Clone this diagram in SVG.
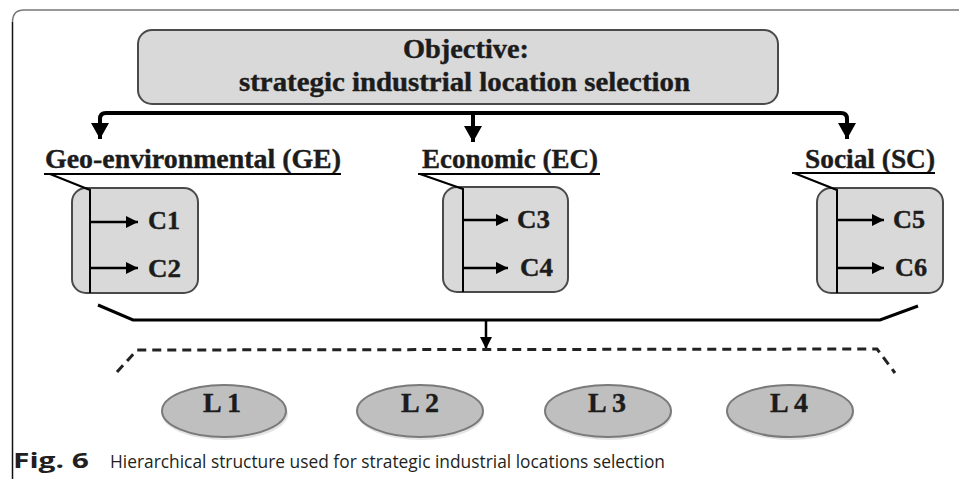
<svg xmlns="http://www.w3.org/2000/svg" width="959" height="479" viewBox="0 0 959 479">
  <style>
    .frame-top { fill: none; stroke: #777; stroke-width: 1.5; }
    .frame-left { fill: none; stroke: #111; stroke-width: 1.5; }
    .box { fill: #d9d9d9; stroke: #4a4a4a; stroke-width: 2; }
    .loc { fill: #bfbfbf; stroke: #7a7a7a; stroke-width: 2; }
    .shadow { fill: #e4e4e4; }
    .serif { font-family: "Liberation Serif", "Times New Roman", serif; font-weight: bold; fill: #1c1c1c; stroke: #1c1c1c; stroke-width: 0.4; }
    .title { font-size: 27px; }
    .crit { font-size: 27px; }
    .sub { font-size: 25px; }
    .lbl { font-size: 28px; }
    .cap { font-family: "Open Sans", "Noto Sans", sans-serif; font-size: 18px; fill: #231f20; }
    .capb { font-family: "Open Sans", "Noto Sans", sans-serif; font-size: 22px; font-weight: bold; fill: #231f20; }
    .thick { fill: none; stroke: #000; stroke-width: 4; }
    .bracket { fill: none; stroke: #000; stroke-width: 3; }
    .dash { fill: none; stroke: #222; stroke-width: 3; stroke-dasharray: 9 6; }
    .thin { fill: none; stroke: #000; stroke-width: 2.5; }
    .uline { fill: none; stroke: #000; stroke-width: 2; }
  </style>
  <defs>
    <marker id="bigArrow" markerUnits="userSpaceOnUse" viewBox="0 0 16 18" markerWidth="16" markerHeight="18" refX="16" refY="9" orient="auto">
      <path d="M0,0 L16,9 L0,18 Z" fill="#000"/>
    </marker>
    <marker id="smallArrow" markerUnits="userSpaceOnUse" viewBox="0 0 12 12" markerWidth="12" markerHeight="12" refX="12" refY="6" orient="auto">
      <path d="M0,0 L12,6 L0,12 Z" fill="#000"/>
    </marker>
  </defs>

  <!-- figure frame -->
  <path class="frame-top" d="M12.5,22 Q12.5,10 24,10 L959,10"/>
  <path class="frame-left" d="M12.5,22 L12.5,479"/>

  <!-- objective node -->
  <g id="objective">
    <rect class="box" x="138" y="30" width="640" height="74" rx="14"/>
    <text class="serif title" x="403" y="58" textLength="126" lengthAdjust="spacingAndGlyphs">Objective:</text>
    <text class="serif title" x="239" y="91" textLength="451" lengthAdjust="spacingAndGlyphs">strategic industrial location selection</text>
  </g>

  <!-- criteria groups -->
  <g id="ge">
    <text class="serif crit" x="45" y="168" textLength="296" lengthAdjust="spacingAndGlyphs">Geo-environmental (GE)</text>
    <path class="uline" d="M44,174 L341,174"/>
    <rect class="box" x="72" y="188" width="126" height="105" rx="14"/>
    <path class="uline" d="M50,174 L90,190 L90,293"/>
    <text class="serif sub" x="148" y="229" textLength="32" lengthAdjust="spacingAndGlyphs">C1</text>
    <text class="serif sub" x="148" y="277" textLength="33" lengthAdjust="spacingAndGlyphs">C2</text>
  </g>
  <g id="ec">
    <text class="serif crit" x="422" y="168" textLength="176" lengthAdjust="spacingAndGlyphs">Economic (EC)</text>
    <path class="uline" d="M418,174 L600,174"/>
    <rect class="box" x="443" y="187" width="125" height="105" rx="14"/>
    <path class="uline" d="M420,174 L463,189 L463,292"/>
    <text class="serif sub" x="517" y="228" textLength="33" lengthAdjust="spacingAndGlyphs">C3</text>
    <text class="serif sub" x="520" y="276" textLength="33" lengthAdjust="spacingAndGlyphs">C4</text>
  </g>
  <g id="sc">
    <text class="serif crit" x="805" y="168" textLength="130" lengthAdjust="spacingAndGlyphs">Social (SC)</text>
    <path class="uline" d="M792,173 L935,173"/>
    <rect class="box" x="817" y="188" width="126" height="105" rx="14"/>
    <path class="uline" d="M794,173 L837,190 L837,293"/>
    <text class="serif sub" x="893" y="228" textLength="32" lengthAdjust="spacingAndGlyphs">C5</text>
    <text class="serif sub" x="895" y="276" textLength="32" lengthAdjust="spacingAndGlyphs">C6</text>
  </g>

  <!-- location alternatives -->
  <g id="l1">
    <ellipse class="shadow" cx="225" cy="414" rx="63" ry="26"/>
    <ellipse class="loc" cx="224" cy="411" rx="62" ry="26"/>
    <text class="serif lbl" x="222" y="412" text-anchor="middle">L 1</text>
  </g>
  <g id="l2">
    <ellipse class="shadow" cx="421" cy="414" rx="63" ry="26"/>
    <ellipse class="loc" cx="420" cy="411" rx="63" ry="26"/>
    <text class="serif lbl" x="420" y="412" text-anchor="middle">L 2</text>
  </g>
  <g id="l3">
    <ellipse class="shadow" cx="609" cy="414" rx="63" ry="26"/>
    <ellipse class="loc" cx="608" cy="411" rx="63" ry="26"/>
    <text class="serif lbl" x="607" y="412" text-anchor="middle">L 3</text>
  </g>
  <g id="l4">
    <ellipse class="shadow" cx="791" cy="414" rx="63" ry="26"/>
    <ellipse class="loc" cx="790" cy="411" rx="63" ry="26"/>
    <text class="serif lbl" x="789" y="412" text-anchor="middle">L 4</text>
  </g>

  <!-- connectors -->
  <g id="connectors">
    <path class="thick" d="M473,113 L106,113 Q100,113 100,119 L100,139" marker-end="url(#bigArrow)"/>
    <path class="thick" d="M473,113 L841,113 Q847,113 847,119 L847,139" marker-end="url(#bigArrow)"/>
    <path class="thick" d="M473,111 L473,142" marker-end="url(#bigArrow)"/>

    <path class="thin" d="M90,222 L138,222" marker-end="url(#smallArrow)"/>
    <path class="thin" d="M90,268 L138,268" marker-end="url(#smallArrow)"/>
    <path class="thin" d="M463,220 L508,220" marker-end="url(#smallArrow)"/>
    <path class="thin" d="M463,268 L508,268" marker-end="url(#smallArrow)"/>
    <path class="thin" d="M837,220 L884,220" marker-end="url(#smallArrow)"/>
    <path class="thin" d="M837,268 L884,268" marker-end="url(#smallArrow)"/>

    <path class="bracket" d="M98,305 L133,320 L880,320 L918,306"/>
    <path class="thin" d="M486,320 L486,349" marker-end="url(#smallArrow)"/>
    <path class="dash" d="M117,372 L137,350 L877,349 L895,373"/>
  </g>

  <!-- caption -->
  <text class="capb" x="13" y="468" textLength="76" lengthAdjust="spacingAndGlyphs">Fig. 6</text>
  <text class="cap" x="110" y="468" textLength="555" lengthAdjust="spacingAndGlyphs">Hierarchical structure used for strategic industrial locations selection</text>
</svg>
